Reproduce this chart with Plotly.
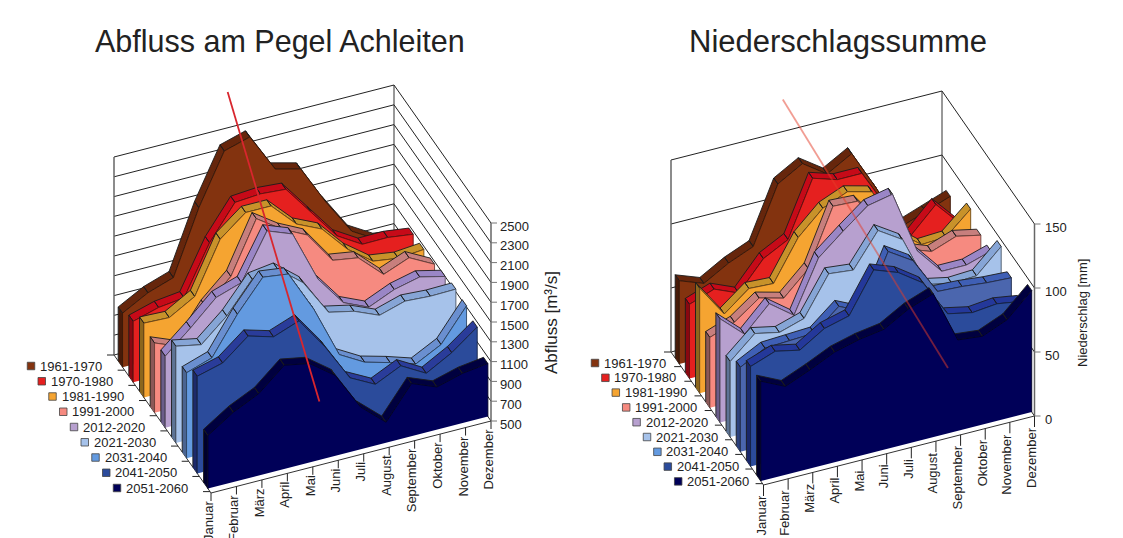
import plotly.graph_objects as go

months = ["Januar","Februar","März","April","Mai","Juni","Juli","August","September","Oktober","November","Dezember"]
periods = ["1961-1970","1970-1980","1981-1990","1991-2000","2012-2020","2021-2030","2031-2040","2041-2050","2051-2060"]
colors = ["#83330f","#e5201f","#f5a431","#f68a80","#b7a0cf","#a6c2ea","#639ae0","#2b4b9b","#000058"]
strips = ["#66260c","#c60a18","#c8922a","#c77f7d","#9a86c6","#86a5d6","#6a8fd0","#2a3c9a","#00003f"]
regen_colors = ["#83330f","#e5201f","#f5a431","#f68a80","#b7a0cf","#a6c2ea","#4b66ae","#2b4b9b","#000058"]
regen_strips = ["#66260c","#c60a18","#c8922a","#c77f7d","#9a86c6","#86a5d6","#3f5fb5","#24389a","#00003f"]

abfluss_1961 = [1045,1185,1272,1912,2419,2494,2104,2038,1634,1278,1129,1096]
abfluss_1970 = [1116,1190,1221,1711,2053,2073,2053,1752,1451,1299,1302,1268]
abfluss_1981 = [1251,1241,1388,1901,2104,2104,1855,1738,1468,1282,1245,1268]
abfluss_1991 = [1204,1102,1444,1678,2195,2023,1898,1576,1535,1302,1404,1272]
abfluss_2012 = [1224,1444,1684,1769,2225,2128,1606,1302,1190,1302,1363,1302]
abfluss_2021 = [1478,1427,1651,1957,1992,1789,1424,1368,1261,1338,1322,1327]
abfluss_2031 = [1363,1448,1823,2130,2096,1674,1150,1007,937,855,987,1312]
abfluss_2041 = [1481,1549,1755,1681,1776,1454,1069,937,1058,916,1058,1251]
abfluss_2051 = [1036,1205,1327,1547,1499,1313,927,707,1032,931,1002,1036]

regen_1961 = [65,58,69,77,121,132,119,130,98,63,70,77]
regen_1970 = [58,65,57,79,89,132,126,126,95,68,87,67]
regen_1981 = [82,57,72,71,102,120,128,123,87,72,73,90]
regen_1991 = [55,62,76,71,89,133,132,108,85,78,85,81]
regen_2012 = [81,64,83,69,109,125,140,144,95,74,74,80]
regen_2021 = [59,76,72,78,108,106,132,120,80,76,77,95]
regen_2031 = [66,76,77,78,94,85,127,115,86,85,83,82]
regen_2041 = [78,85,81,93,98,129,122,109,80,76,78,75]
regen_2051 = [78,69,77,86,91,94,105,112,71,69,77,95]

abfluss = [abfluss_1961,abfluss_1970,abfluss_1981,abfluss_1991,abfluss_2012,abfluss_2021,abfluss_2031,abfluss_2041,abfluss_2051]
regen = [regen_1961,regen_1970,regen_1981,regen_1991,regen_2012,regen_2021,regen_2031,regen_2041,regen_2051]

abfluss_ticks = [500,700,900,1100,1300,1500,1700,1900,2100,2300,2500]
regen_ticks = [0,50,100,150]
# trend line: (month index, depth, value)
abfluss_trend = [(4.13,0.088,3007),(4.38,0.968,1089)]
regen_trend = [(4.2,0.09,186),(7.6,0.97,51)]

fig = go.Figure()
ann = []

def shade(h,f):
    r,g,b = int(h[1:3],16),int(h[3:5],16),int(h[5:7],16)
    return f"rgb({int(r*f)},{int(g*f)},{int(b*f)})"

def poly(xs,ys,fill,line="#1c1c1c",w=0.9):
    fig.add_trace(go.Scatter(x=xs,y=ys,mode="lines",fill="toself",fillcolor=fill,
        line=dict(color=line,width=w),hoverinfo="skip",showlegend=False))

def seg(xs,ys,color="#222",w=1):
    fig.add_trace(go.Scatter(x=xs,y=ys,mode="lines",line=dict(color=color,width=w),
        hoverinfo="skip",showlegend=False))

def text(x,y,t,size=13,xa="left",ya="middle",angle=0):
    ann.append(dict(x=x,y=y,xref="x",yref="y",text=t,showarrow=False,xanchor=xa,yanchor=ya,
        textangle=angle,font=dict(size=size,color="#222",family="Liberation Sans"),borderpad=0,borderwidth=0))

def panel(data,ticks,p,trend,trend_col,trend_w,faces,tops):
    def P(m,t,v):
        return (p["x0"]+p["wx"]*m/11+p["dx"]*t,
                p["y0"]+p["wy"]*m/11+p["dy"]*t-(v-ticks[0])*p["k"])
    lo,hi = ticks[0],ticks[-1]
    # walls
    for v in ticks:
        a,b,c = P(0,0,v),P(11,0,v),P(11,1,v)
        seg([a[0],b[0],c[0]],[a[1],b[1],c[1]],w=1)
    a,b = P(11,0,lo),P(11,0,hi)
    seg([a[0],b[0]],[a[1],b[1]],color="#333",w=1)
    for m,t in [(0,0),(11,1)]:
        a,b = P(m,t,lo),P(m,t,hi)
        seg([a[0],b[0]],[a[1],b[1]],color="#666",w=1.5)
    # floor frame and ticks
    a,b,c = P(0,0,lo),P(0,1,lo),P(11,1,lo)
    seg([a[0],b[0],c[0]],[a[1],b[1],c[1]],color="#333",w=1)
    for j in range(10):
        q = P(0,0.11*j,lo)
        seg([q[0]-7,q[0]],[q[1],q[1]],w=1)
    for m,name in enumerate(months):
        q = P(m,1,lo)
        seg([q[0],q[0]],[q[1],q[1]+p["lb"]],w=1)
        text(q[0]-3,q[1]+p["lb"],name,ya="top",xa="center",angle=-90)
    for v in ticks:
        q = P(11,1,v)
        seg([q[0],q[0]+6],[q[1],q[1]],color="#777",w=1)
        text(q[0]+p["tl"],q[1]+3,str(v))
    # ribbons back to front
    for i,vals in enumerate(data):
        t = p["t0"]+0.11*i
        tb = t-0.045
        xs,ys=[],[]
        for m in range(11):
            q=[P(m,t,vals[m]),P(m+1,t,vals[m+1]),P(m+1,tb,vals[m+1]),P(m,tb,vals[m]),P(m,t,vals[m])]
            xs+= [u[0] for u in q]+[None]
            ys+= [u[1] for u in q]+[None]
        poly(xs,ys,tops[i])
        q=[P(0,t,lo),P(0,t,vals[0]),P(0,tb,vals[0]),P(0,tb,lo)]
        poly([u[0] for u in q],[u[1] for u in q],shade(tops[i],0.7))
        top=[P(m,t,vals[m]) for m in range(12)]
        q=[P(0,t,lo)]+top+[P(11,t,lo)]
        poly([u[0] for u in q],[u[1] for u in q],faces[i],line=shade(faces[i],0.45),w=0.9)
    # trend line
    a=P(*trend[0]); b=P(*trend[1])
    seg([a[0],b[0]],[a[1],b[1]],color=trend_col,w=trend_w)
    # legend
    for i,name in enumerate(periods):
        lx=p["lx"]+p["lsx"]*i; ly=p["ly"]+p["lsy"]*i
        fig.add_trace(go.Scatter(x=[lx],y=[ly],mode="markers",marker=dict(symbol="square",size=7.5,color=colors[i],
            line=dict(color="#444",width=0.8)),hoverinfo="skip",showlegend=False))
        text(lx+9,ly,name)

left = dict(x0=114,y0=355,wx=280,wy=-72,dx=97,dy=138,k=0.099,t0=0.088,tl=9,lb=8,lx=31,lsx=10.75,ly=366,lsy=15.25)
right = dict(x0=671,y0=352,wx=271,wy=-69,dx=92.5,dy=133,k=1.28,t0=0.09,tl=10,lb=11,lx=595,lsx=10.4,ly=363,lsy=14.8)
panel(abfluss,abfluss_ticks,left,abfluss_trend,"#d8262e",1.8,colors,strips)
panel(regen,regen_ticks,right,regen_trend,"rgba(228,60,40,0.5)",1.8,regen_colors,regen_strips)

text(280,41,"Abfluss am Pegel Achleiten",size=30.5,xa="center")
text(838,41,"Niederschlagssumme",size=31,xa="center")
text(551,323,"Abfluss [m³/s]",size=17,xa="center",angle=-90)
text(1082,313,"Niederschlag [mm]",size=13,xa="center",angle=-90)

fig.update_layout(width=1123,height=538,margin=dict(l=0,r=0,t=0,b=0),paper_bgcolor="white",plot_bgcolor="white",
    annotations=ann,showlegend=False,
    xaxis=dict(range=[0,1123],visible=False,fixedrange=True),
    yaxis=dict(range=[538,0],visible=False,fixedrange=True))
fig.write_html("out.html",config={"displayModeBar":False},
    post_script="document.body.style.margin='0';document.body.style.overflow='hidden';")
